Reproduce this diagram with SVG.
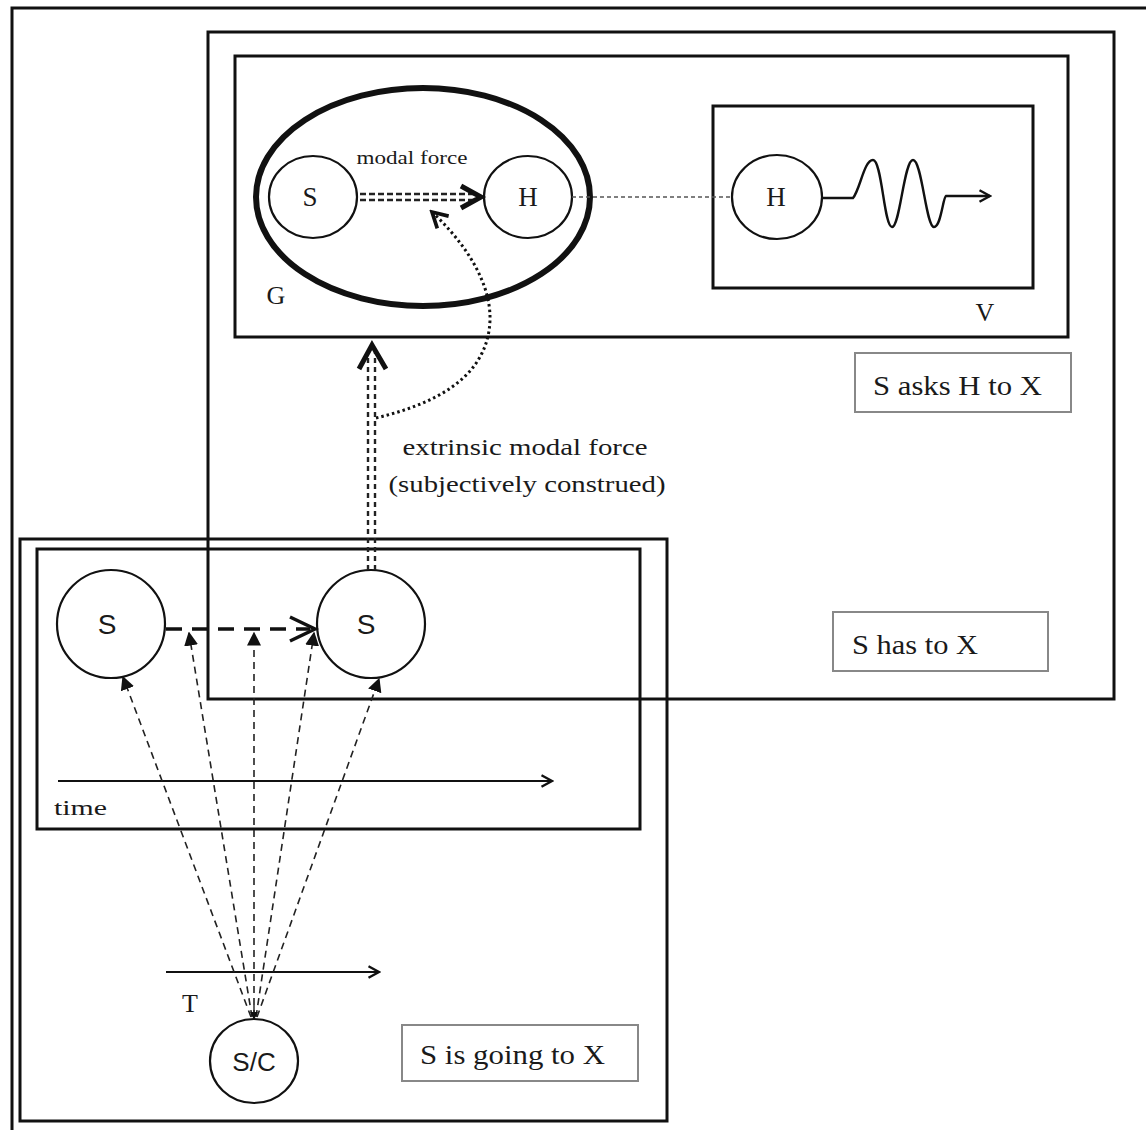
<svg xmlns="http://www.w3.org/2000/svg" width="1146" height="1130" viewBox="0 0 1146 1130">
<style>
.frame{fill:none;stroke:#111;stroke-width:3}
.gbox{fill:#fff;stroke:#888;stroke-width:2}
.circ{fill:#fff;stroke:#111;stroke-width:2.2}
.serif{font-family:"Liberation Serif","Times New Roman",serif;fill:#1a1a1a}
.sans{font-family:"Liberation Sans",Arial,sans-serif;fill:#1a1a1a}
.fan{fill:none;stroke:#222;stroke-width:1.6;stroke-dasharray:7 5}
.chev{fill:none;stroke:#111;stroke-linecap:butt;stroke-linejoin:miter}
</style>
<defs>
<marker id="tri" viewBox="0 0 10 10" refX="9" refY="5" markerWidth="14" markerHeight="14" markerUnits="userSpaceOnUse" orient="auto">
<path d="M0,0 L10,5 L0,10 Z" fill="#111"/>
</marker>
<marker id="smallTri" viewBox="0 0 10 10" refX="9" refY="5" markerWidth="8" markerHeight="8" markerUnits="userSpaceOnUse" orient="auto">
<path d="M0,0 L10,5 L0,10 Z" fill="#111"/>
</marker>
<marker id="open" viewBox="0 0 12 12" refX="10" refY="6" markerWidth="14" markerHeight="14" markerUnits="userSpaceOnUse" orient="auto">
<path d="M1,1 L10,6 L1,11" fill="none" stroke="#111" stroke-width="2"/>
</marker>
<marker id="openDot" viewBox="0 0 12 12" refX="10" refY="6" markerWidth="20" markerHeight="20" markerUnits="userSpaceOnUse" orient="auto">
<path d="M1,1 L10,6 L1,11" fill="none" stroke="#111" stroke-width="2.2"/>
</marker>
</defs>
<rect width="1146" height="1130" fill="#fff"/>

<g id="outer-frame"><rect class="frame" x="12" y="8" width="1150" height="1140"/></g>

<g id="has-to-box"><rect class="frame" x="208" y="32" width="906" height="667"/></g>
<g id="asks-box"><rect class="frame" x="235" y="56" width="833" height="281"/></g>

<g id="going-box"><rect class="frame" x="20" y="539" width="647" height="582"/></g>
<g id="time-box"><rect class="frame" x="37" y="549" width="603" height="280"/></g>

<g id="V-box">
<rect class="frame" x="713" y="106" width="320" height="182"/>
<text class="serif" x="985" y="321" font-size="26" text-anchor="middle">V</text>
</g>

<g id="G">
<ellipse cx="423" cy="197" rx="167" ry="109" fill="none" stroke="#111" stroke-width="6"/>
<text class="serif" x="276" y="304" font-size="26" text-anchor="middle">G</text>
</g>

<g id="S-top">
<ellipse class="circ" cx="313" cy="197" rx="44" ry="41"/>
<text class="serif" x="310" y="206" font-size="27" text-anchor="middle">S</text>
</g>
<g id="H-top">
<ellipse class="circ" cx="528" cy="197" rx="44" ry="41"/>
<text class="serif" x="528" y="206" font-size="27" text-anchor="middle">H</text>
</g>
<g id="H-V">
<ellipse class="circ" cx="777" cy="197" rx="45" ry="42"/>
<text class="serif" x="776" y="206" font-size="27" text-anchor="middle">H</text>
</g>

<g id="S-left">
<circle class="circ" cx="111" cy="624" r="54"/>
<text class="sans" x="107" y="634" font-size="28" text-anchor="middle">S</text>
</g>
<g id="S-right">
<circle class="circ" cx="371" cy="624" r="54"/>
<text class="sans" x="366" y="634" font-size="28" text-anchor="middle">S</text>
</g>
<g id="SC">
<ellipse class="circ" cx="254" cy="1061" rx="44" ry="42"/>
<text class="sans" x="254" y="1071" font-size="26" text-anchor="middle">S/C</text>
</g>

<g id="label-asks">
<rect class="gbox" x="855" y="353" width="216" height="59"/>
<text class="serif" x="873" y="395" font-size="27" textLength="169" lengthAdjust="spacingAndGlyphs">S asks H to X</text>
</g>
<g id="label-has">
<rect class="gbox" x="833" y="612" width="215" height="59"/>
<text class="serif" x="852" y="654" font-size="27" textLength="126" lengthAdjust="spacingAndGlyphs">S has to X</text>
</g>
<g id="label-going">
<rect class="gbox" x="402" y="1025" width="236" height="56"/>
<text class="serif" x="420" y="1064" font-size="27" textLength="185" lengthAdjust="spacingAndGlyphs">S is going to X</text>
</g>

<g id="time-axis">
<line x1="58" y1="781" x2="552" y2="781" stroke="#111" stroke-width="2" marker-end="url(#open)"/>
<text class="serif" x="54" y="815" font-size="22" textLength="53" lengthAdjust="spacingAndGlyphs">time</text>
</g>
<g id="T-axis">
<line x1="166" y1="972" x2="379" y2="972" stroke="#111" stroke-width="2" marker-end="url(#open)"/>
<text class="serif" x="190" y="1012" font-size="26" text-anchor="middle">T</text>
</g>

<g id="connectors">
<line x1="360" y1="194" x2="476" y2="194" stroke="#222" stroke-width="2.4" stroke-dasharray="6 3"/>
<line x1="360" y1="200" x2="476" y2="200" stroke="#222" stroke-width="2.4" stroke-dasharray="6 3"/>
<path class="chev" d="M461,186 L481,197 L461,208" stroke-width="5"/>
<text class="serif" x="412" y="164" font-size="18" text-anchor="middle" textLength="111" lengthAdjust="spacingAndGlyphs">modal force</text>

<line x1="572" y1="197" x2="732" y2="197" stroke="#555" stroke-width="1.6" stroke-dasharray="4 3"/>

<path d="M822,198 L853,198 C860,190 864,160 873,160 C882,160 884,227 892,227 C900,227 904,160 913,160 C922,160 926,227 934,227 C941,227 943,197 946,196 L990,196" fill="none" stroke="#111" stroke-width="2.4" marker-end="url(#open)"/>

<line x1="368" y1="570" x2="368" y2="352" stroke="#222" stroke-width="2.4" stroke-dasharray="5 4"/>
<line x1="375" y1="570" x2="375" y2="352" stroke="#222" stroke-width="2.4" stroke-dasharray="5 4"/>
<path class="chev" d="M359,369 L372,345 L386,369" stroke-width="5"/>
<text class="serif" x="525" y="455" font-size="23" text-anchor="middle" textLength="245" lengthAdjust="spacingAndGlyphs">extrinsic modal force</text>
<text class="serif" x="527" y="492" font-size="23" text-anchor="middle" textLength="277" lengthAdjust="spacingAndGlyphs">(subjectively construed)</text>

<path d="M376,418 C430,405 488,380 490,320 C491,280 462,240 432,212" fill="none" stroke="#111" stroke-width="3" stroke-dasharray="2.5 3" marker-end="url(#openDot)"/>

<line x1="166" y1="629" x2="310" y2="629" stroke="#111" stroke-width="3.5" stroke-dasharray="16 10"/>
<path class="chev" d="M290,617 L315,629 L290,641" stroke-width="3.5"/>

<line class="fan" x1="251" y1="1017" x2="123" y2="677" marker-end="url(#tri)"/>
<line class="fan" x1="252" y1="1017" x2="189" y2="633" marker-end="url(#tri)"/>
<line class="fan" x1="254" y1="1017" x2="254" y2="633" marker-end="url(#tri)"/>
<line class="fan" x1="256" y1="1017" x2="314" y2="633" marker-end="url(#tri)"/>
<line class="fan" x1="257" y1="1017" x2="379" y2="679" marker-end="url(#tri)"/>
<line x1="254" y1="1005" x2="254" y2="1019" stroke="#222" stroke-width="1.4" marker-end="url(#smallTri)"/>
</g>
</svg>
